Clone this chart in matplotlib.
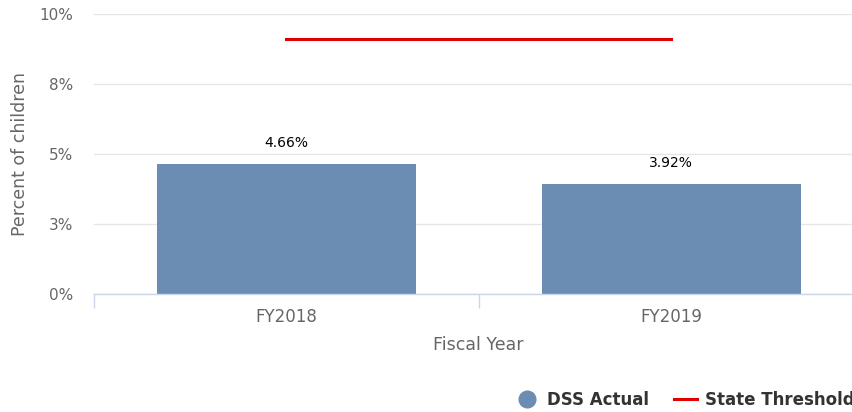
import matplotlib
matplotlib.use("Agg")
from matplotlib import pyplot as plt
from matplotlib.lines import Line2D

# Data
years = ["FY2018", "FY2019"]
dss_actual = [4.66, 3.92]
state_threshold = [9.1, 9.1]
y_ticks = [0, 2.5, 5, 7.5, 10]
y_tick_labels = ["0%", "3%", "5%", "8%", "10%"]

BAR_COLOR = "#6b8db3"
LINE_COLOR = "#e00000"
AXIS_COLOR = "#ccd6eb"
GRID_COLOR = "#e6e6e6"
LABEL_COLOR = "#666666"

plt.rcParams["font.family"] = ["DejaVu Sans"]

fig = plt.figure(figsize=(8.52, 4.12), dpi=100)
ax = fig.add_axes([94 / 852, 1 - 294 / 412, 769.5 / 852, 280 / 412])

x = list(range(len(years)))
ax.bar(x, dss_actual, width=0.673, color=BAR_COLOR, zorder=2)
ax.plot(x, state_threshold, color=LINE_COLOR, linewidth=2.2, zorder=3)

for xi, v in zip(x, dss_actual):
    ax.annotate(f"{v:.2f}%", (xi, v), xytext=(0, 10), textcoords="offset points",
                ha="center", va="bottom", fontsize=10, color="black")

ax.set_xlim(-0.5, len(years) - 0.5)
ax.set_ylim(0, 10)

# y axis: gridlines only
ax.set_yticks(y_ticks)
ax.set_yticklabels(y_tick_labels)
ax.grid(axis="y", color=GRID_COLOR, linewidth=1, zorder=0)
ax.tick_params(axis="y", length=0, pad=15, labelsize=11, labelcolor=LABEL_COLOR)
ax.set_ylabel("Percent of children", fontsize=12.5, color=LABEL_COLOR, labelpad=7.5)

# x axis: category labels with boundary ticks
ax.set_xticks(x)
ax.set_xticklabels(years)
ax.tick_params(axis="x", length=0, pad=10, labelsize=12, labelcolor=LABEL_COLOR)
ax.set_xticks([-0.5, 0.5, 1.5], minor=True)
ax.tick_params(axis="x", which="minor", length=10, width=1, color=AXIS_COLOR)
ax.set_xlabel("Fiscal Year", fontsize=12.5, color=LABEL_COLOR, labelpad=7.5)

for side in ["top", "right", "left"]:
    ax.spines[side].set_visible(False)
ax.spines["bottom"].set_color(AXIS_COLOR)
ax.spines["bottom"].set_linewidth(1)

handles = [
    Line2D([], [], marker="o", linestyle="none", markersize=12,
           markerfacecolor=BAR_COLOR, markeredgecolor=BAR_COLOR),
    Line2D([], [], color=LINE_COLOR, linewidth=2.2),
]
leg = fig.legend(handles, ["DSS Actual", "State Threshold"], loc="center left",
                 bbox_to_anchor=(500 / 852, 1 - 400 / 412), ncol=2, frameon=False,
                 handlelength=1.4, handletextpad=0.5, columnspacing=1.5,
                 prop={"size": 12, "weight": "bold"})
for t in leg.get_texts():
    t.set_color("#333333")

fig.savefig("out.png", dpi=100)
